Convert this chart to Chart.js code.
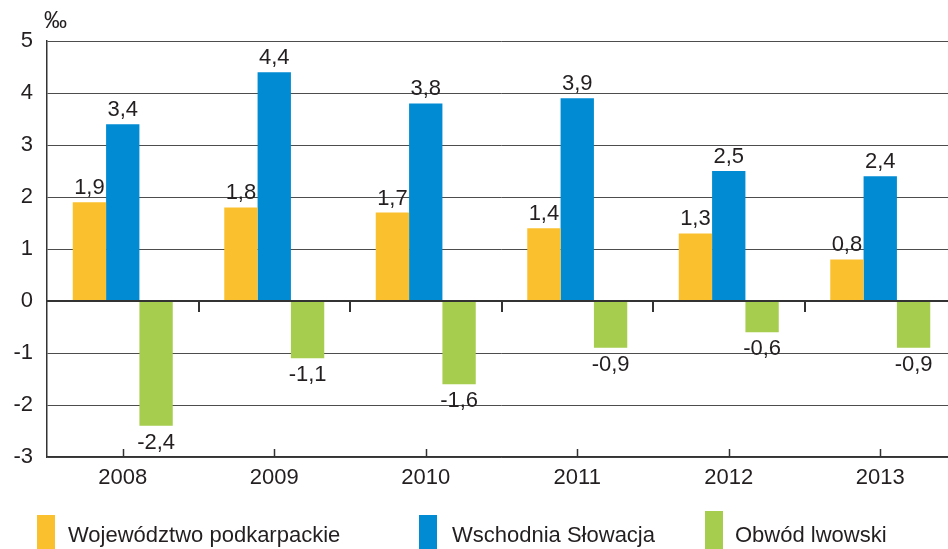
<!DOCTYPE html>
<html>
<head>
<meta charset="utf-8">
<script src="https://cdn.jsdelivr.net/npm/chart.js@4/dist/chart.umd.min.js"></script>
<style>
  html, body { margin: 0; padding: 0; background: #fff; overflow: hidden; }
  #wrap { position: relative; width: 948px; height: 549px; overflow: hidden; }
  #chart { position: absolute; left: 0; top: 0; }
  .sw { position: absolute; width: 18px; }
  .lg { position: absolute; font: 22px "Liberation Sans", Arial, sans-serif; line-height: 22px;
        color: #231f20; white-space: nowrap; }
</style>
</head>
<body>
<div id="wrap">
  <canvas id="chart" width="960" height="549"></canvas>
  <div class="sw" style="left:37px;top:515px;height:34px;background:#fbc02d"></div>
  <div class="lg" style="left:68px;top:524px">Województwo podkarpackie</div>
  <div class="sw" style="left:419px;top:515px;height:34px;background:#008bd3"></div>
  <div class="lg" style="left:452px;top:524px">Wschodnia Słowacja</div>
  <div class="sw" style="left:705px;top:511px;height:38px;background:#a6cd4e"></div>
  <div class="lg" style="left:735px;top:524px">Obwód lwowski</div>
</div>
<script>
// ---------- DATA ----------
const years = ["2008", "2009", "2010", "2011", "2012", "2013"];
const podkarpackie = [1.9, 1.8, 1.7, 1.4, 1.3, 0.8];
const slowacja = [3.4, 4.4, 3.8, 3.9, 2.5, 2.4];
const lwowski = [-2.4, -1.1, -1.6, -0.9, -0.6, -0.9];
const seriesNames = ["Województwo podkarpackie", "Wschodnia Słowacja", "Obwód lwowski"];
const yTicks = [-3, -2, -1, 0, 1, 2, 3, 4, 5];

const FONT = '"Liberation Sans", Arial, sans-serif';
const TEXT = "#231f20";

// ---------- PLUGIN: zero line, tick marks, value labels, unit ----------
const decorations = {
  id: "decorations",
  afterDatasetsDraw(chart) {
    const { ctx, chartArea, scales: { x, y } } = chart;
    const zero = y.getPixelForValue(0);
    ctx.save();
    ctx.strokeStyle = "#333";

    // zero line
    ctx.lineWidth = 2;
    ctx.beginPath();
    ctx.moveTo(chartArea.left, zero);
    ctx.lineTo(chartArea.right, zero);
    ctx.stroke();

    // ticks between categories, hanging from zero line
    for (let i = 0; i < years.length - 1; i++) {
      const mx = Math.round((x.getPixelForValue(i) + x.getPixelForValue(i + 1)) / 2);
      ctx.beginPath();
      ctx.moveTo(mx, zero);
      ctx.lineTo(mx, zero + 11);
      ctx.stroke();
    }

    // ticks at category centres on the bottom axis
    ctx.lineWidth = 1.5;
    years.forEach((_, i) => {
      const cx = Math.round(x.getPixelForValue(i)) + 0.5;
      ctx.beginPath();
      ctx.moveTo(cx, chartArea.bottom);
      ctx.lineTo(cx, chartArea.bottom - 8);
      ctx.stroke();
    });

    // value labels
    ctx.fillStyle = TEXT;
    ctx.font = "22px " + FONT;
    ctx.textAlign = "center";
    ctx.textBaseline = "alphabetic";
    chart.data.datasets.forEach((ds, di) => {
      chart.getDatasetMeta(di).data.forEach((bar, i) => {
        const v = ds.data[i];
        const txt = v.toFixed(1).replace(".", ",");
        const ty = v >= 0 ? bar.y - 8 : bar.y + 23;
        ctx.fillText(txt, bar.x, ty);
      });
    });

    // unit
    ctx.font = "23px " + FONT;
    ctx.textAlign = "left";
    ctx.fillText("‰", 44, 28);
    ctx.restore();
  }
};

// ---------- CHART ----------
new Chart(document.getElementById("chart"), {
  type: "bar",
  data: {
    labels: years,
    datasets: [
      { label: seriesNames[0], data: podkarpackie, backgroundColor: "#fbc02d" },
      { label: seriesNames[1], data: slowacja, backgroundColor: "#008bd3" },
      { label: seriesNames[2], data: lwowski, backgroundColor: "#a6cd4e" }
    ]
  },
  options: {
    responsive: false,
    animation: false,
    events: [],
    layout: { padding: { top: 41, right: 4, left: 0, bottom: 0 } },
    datasets: { bar: { categoryPercentage: 0.66, barPercentage: 1, borderWidth: 0 } },
    plugins: { legend: { display: false }, tooltip: { enabled: false } },
    scales: {
      x: {
        grid: { display: false, drawTicks: false },
        border: { display: true, color: "#333", width: 1.5 },
        ticks: { color: TEXT, font: { family: FONT, size: 22 }, padding: 8, maxRotation: 0 },
        afterFit(scale) { scale.height = 92; }
      },
      y: {
        min: yTicks[0],
        max: yTicks[yTicks.length - 1],
        afterBuildTicks(scale) { scale.ticks = yTicks.map(v => ({ value: v })); },
        grid: {
          color: "#4d4d4d",
          lineWidth: 1,
          drawTicks: false
        },
        border: { display: true, color: "#333", width: 1.5 },
        ticks: {
          color: TEXT,
          font: { family: FONT, size: 22 },
          padding: 14,
          callback: v => String(v)
        },
        afterFit(scale) { scale.width = 47; }
      }
    }
  },
  plugins: [decorations]
});
</script>
</body>
</html>
